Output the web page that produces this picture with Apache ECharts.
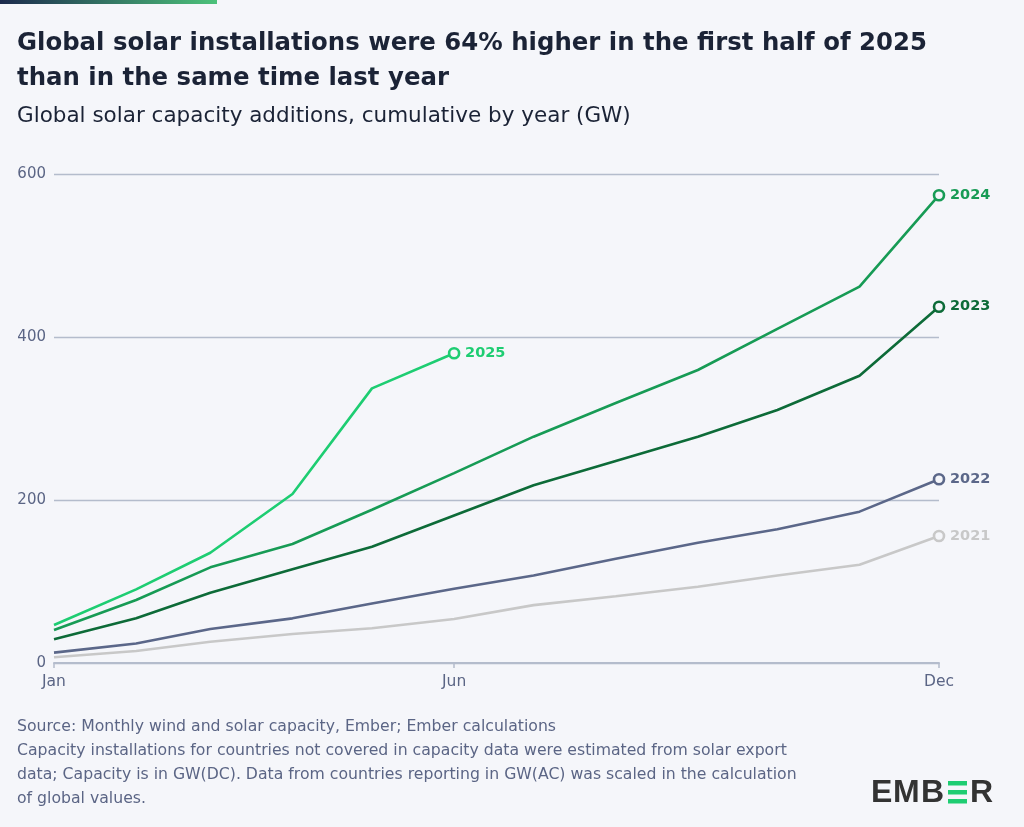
<!DOCTYPE html>
<html>
<head>
<meta charset="utf-8">
<script src="https://cdn.jsdelivr.net/npm/echarts@6/dist/echarts.min.js"></script>
<style>
html,body{margin:0;padding:0;background:#f5f6fa;}
#chart{width:1024px;height:827px;}
</style>
</head>
<body>
<div id="chart"></div>
<script>
// Month categories and their day offset from Jan 1 (time positions)
const months = ['Jan','Feb','Mar','Apr','May','Jun','Jul','Aug','Sep','Oct','Nov','Dec'];
const monthDay = [0,31,59,90,120,151,181,212,243,273,304,334];
const xTickMonths = ['Jan','Jun','Dec'];
const yTicks = [0,200,400,600];

// Cumulative solar additions (GW)
const s2021 = [7,14.7,26,35.6,42.6,54,71,82,93.6,107.4,120.5,155.8];
const s2022 = [12.7,24,41.7,54.8,73,91,107.4,128,147.6,164,185.7,225.4];
const s2023 = [29,54.8,86.3,115,142.7,181,218,248,277.7,310.4,352.5,437.2];
const s2024 = [40.5,77.3,117.4,146,188,233,277.7,319,359.5,410,461.7,574];
const s2025 = [46.6,90.4,135.3,207.4,337,380];

const seriesDefs = [
  {name:'2021', data:s2021, color:'#c8c8c8'},
  {name:'2022', data:s2022, color:'#5b6789'},
  {name:'2023', data:s2023, color:'#0d6b38'},
  {name:'2024', data:s2024, color:'#179b55'},
  {name:'2025', data:s2025, color:'#1ecd72'}
];

const bg = '#f5f6fa';
const axisText = '#5b6585';
const gridCol = '#b4bccc';
const font = '"DejaVu Sans"';
const logoFont = 'bold 32px "Liberation Sans"';

function build(def){
  const n = def.data.length;
  return {
    type:'line',
    name:def.name,
    data:def.data.map((v,i)=>({
      value:[monthDay[i], v],
      symbol: i===n-1 ? 'circle' : 'none'
    })),
    symbolSize:10,
    lineStyle:{color:def.color,width:2.6},
    itemStyle:{color:bg,borderColor:def.color,borderWidth:2.6},
    emphasis:{disabled:true},
    endLabel:{show:true,formatter:'{a}',color:def.color,fontWeight:'bold',
      fontSize:14.5,fontFamily:'DejaVu Sans',distance:11},
    z: 2
  };
}

const chart = echarts.init(document.getElementById('chart'));
const footer = [
  'Source: Monthly wind and solar capacity, Ember; Ember calculations',
  'Capacity installations for countries not covered in capacity data were estimated from solar export',
  'data; Capacity is in GW(DC). Data from countries reporting in GW(AC) was scaled in the calculation',
  'of global values.'
];
const graphics = [
  {type:'rect',left:0,top:0,shape:{width:217,height:4},
    style:{fill:new echarts.graphic.LinearGradient(0,0,1,0,[{offset:0,color:'#1c2a4d'},{offset:1,color:'#4cc27a'}])}},
  {type:'text',left:17,top:26,style:{text:'Global solar installations were 64% higher in the first half of 2025\nthan in the same time last year',
    font:'bold 24.4px '+font,fill:'#1b2336',lineHeight:35}},
  {type:'text',left:17,top:105,style:{text:'Global solar capacity additions, cumulative by year (GW)',
    font:'21.5px '+font,fill:'#1b2336'}},
  {type:'text',left:17,top:715,style:{text:footer.join('\n'),font:'15.7px '+font,fill:'#5b6585',lineHeight:24}},
  // EMBER logo
  {type:'text',left:871,top:777,style:{text:'E',font:logoFont,fill:'#333333'}},
  {type:'text',left:893,top:777,style:{text:'M',font:logoFont,fill:'#333333'}},
  {type:'text',left:921,top:777,style:{text:'B',font:logoFont,fill:'#333333'}},
  {type:'rect',left:948,top:781,shape:{width:19,height:4.5},style:{fill:'#1ecd72'}},
  {type:'rect',left:948,top:790,shape:{width:19,height:4.5},style:{fill:'#1ecd72'}},
  {type:'rect',left:948,top:799,shape:{width:19,height:4.5},style:{fill:'#1ecd72'}},
  {type:'text',left:970,top:777,style:{text:'R',font:logoFont,fill:'#333333'}}
];

chart.setOption({
  backgroundColor:bg,
  animation:false,
  grid:{left:54,right:85,top:174,bottom:164,containLabel:false},
  xAxis:{
    type:'value',min:monthDay[0],max:monthDay[11],
    axisLine:{show:true,lineStyle:{color:gridCol,width:2}},
    axisTick:{show:true,length:5,lineStyle:{color:gridCol,width:1.5},
      customValues:xTickMonths.map(m=>monthDay[months.indexOf(m)])},
    axisLabel:{show:true,color:axisText,fontSize:15.5,fontFamily:'DejaVu Sans',margin:11,
      customValues:xTickMonths.map(m=>monthDay[months.indexOf(m)]),
      formatter:v=>months[monthDay.indexOf(v)]},
    splitLine:{show:false}
  },
  yAxis:{
    type:'value',min:yTicks[0],max:yTicks[yTicks.length-1],interval:200,
    axisLine:{show:false},axisTick:{show:false},
    axisLabel:{color:axisText,fontSize:15,fontFamily:'DejaVu Sans',margin:8},
    splitLine:{show:true,lineStyle:{color:gridCol,width:1.3}}
  },
  series:seriesDefs.map(build),
  graphic:graphics
});
</script>
</body>
</html>
